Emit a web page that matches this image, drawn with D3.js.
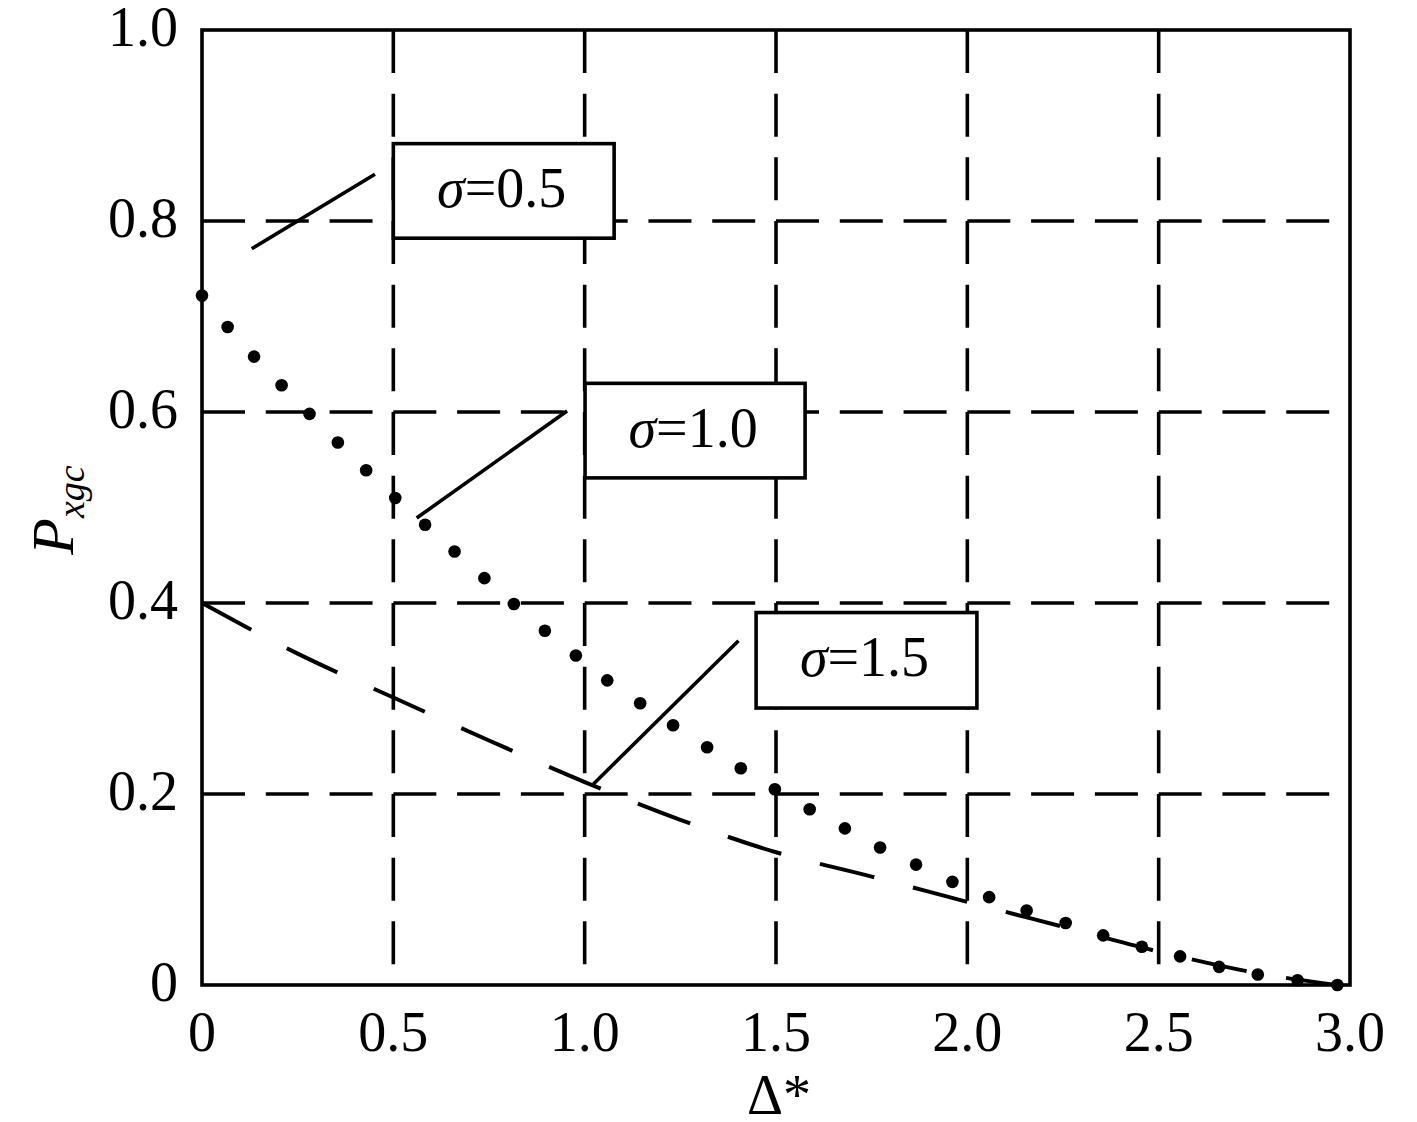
<!DOCTYPE html>
<html>
<head>
<meta charset="utf-8">
<script src="https://cdn.jsdelivr.net/npm/d3@7"></script>
<style>
	body { margin: 0; background: #fff; }
	text { font-family: "Liberation Serif", "Times New Roman", serif; fill: #000; }
</style>
</head>
<body>
<div id="chart"></div>
<script>
// tick values and labels
var xTicks = [0, 0.5, 1.0, 1.5, 2.0, 2.5, 3.0];
var xTickLabels = ["0", "0.5", "1.0", "1.5", "2.0", "2.5", "3.0"];
var yTicks = [0, 0.2, 0.4, 0.6, 0.8, 1.0];
var yTickLabels = ["0", "0.2", "0.4", "0.6", "0.8", "1.0"];

// sigma = 1.0, dotted curve (one value per dot)
var sigma10X = [0, 0.067, 0.136, 0.208, 0.281, 0.355, 0.429, 0.505, 0.583, 0.660, 0.738, 0.815,
	0.896, 0.977, 1.059, 1.145, 1.231, 1.320, 1.408, 1.497, 1.588, 1.680, 1.772, 1.866,
	1.961, 2.057, 2.155, 2.257, 2.355, 2.456, 2.556, 2.658, 2.759, 2.863, 2.967];
var sigma10Y = [0.722, 0.689, 0.658, 0.628, 0.598, 0.568, 0.539, 0.510, 0.482, 0.454, 0.426, 0.399,
	0.371, 0.345, 0.319, 0.295, 0.272, 0.249, 0.227, 0.205, 0.184, 0.164, 0.144, 0.126,
	0.108, 0.092, 0.078, 0.065, 0.052, 0.040, 0.030, 0.019, 0.011, 0.005, 0];

// sigma = 1.5, long dashed curve
var sigma15X = [0, 0.25, 0.5, 0.75, 1.0, 1.25, 1.5, 1.75, 2.0, 2.25, 2.5, 2.75, 2.965];
var sigma15Y = [0.400, 0.347, 0.301, 0.256, 0.2125, 0.173, 0.139, 0.1135, 0.087, 0.061, 0.035, 0.013, 0];

// annotation labels
var sigmaLabels = ["0.5", "1.0", "1.5"];

var width = 1417, height = 1122;
var margin = {top: 30, right: 67, bottom: 137, left: 202};
var w = width - margin.left - margin.right;
var h = height - margin.top - margin.bottom;

var x = d3.scaleLinear().domain([0, 3]).range([0, w]);
var y = d3.scaleLinear().domain([0, 1]).range([h, 0]);

var svg = d3.select("#chart").append("svg")
	.attr("width", width)
	.attr("height", height)
	.style("background", "#fff");

var g = svg.append("g")
	.attr("transform", "translate(" + margin.left + "," + margin.top + ")");

// dashed grid, three dashes per cell
var cellX = (x(0.5) - x(0)) / 3;
var cellY = (y(0) - y(0.2)) / 3;

g.selectAll("line.hgrid")
	.data(yTicks.slice(1, -1))
	.enter().append("line")
	.attr("class", "hgrid")
	.attr("x1", 0)
	.attr("x2", w)
	.attr("y1", function(d) { return y(d); })
	.attr("y2", function(d) { return y(d); })
	.attr("stroke", "#000")
	.attr("stroke-width", 3.6)
	.attr("stroke-dasharray", "43," + (cellX - 43));

g.selectAll("line.vgrid")
	.data(xTicks.slice(1, -1))
	.enter().append("line")
	.attr("class", "vgrid")
	.attr("x1", function(d) { return x(d); })
	.attr("x2", function(d) { return x(d); })
	.attr("y1", 0)
	.attr("y2", h)
	.attr("stroke", "#000")
	.attr("stroke-width", 3.6)
	.attr("stroke-dasharray", "43," + (cellY - 43));

// frame
g.append("rect")
	.attr("x", 0)
	.attr("y", 0)
	.attr("width", w)
	.attr("height", h)
	.attr("fill", "none")
	.attr("stroke", "#000")
	.attr("stroke-width", 3.6);

// tick labels
g.selectAll("text.xtick")
	.data(xTicks)
	.enter().append("text")
	.attr("class", "xtick")
	.attr("x", function(d) { return x(d); })
	.attr("y", h + 66)
	.attr("text-anchor", "middle")
	.attr("font-size", 56)
	.text(function(d, i) { return xTickLabels[i]; });

g.selectAll("text.ytick")
	.data(yTicks)
	.enter().append("text")
	.attr("class", "ytick")
	.attr("x", -24)
	.attr("y", function(d) { return y(d) + 16; })
	.attr("text-anchor", "end")
	.attr("font-size", 56)
	.text(function(d, i) { return yTickLabels[i]; });

// axis titles
svg.append("text")
	.attr("x", margin.left + x(1.5) + 3)
	.attr("y", 1114)
	.attr("text-anchor", "middle")
	.attr("font-size", 56)
	.text("\u0394*");

var ytitle = svg.append("text")
	.attr("transform", "translate(73,510) rotate(-90)")
	.attr("text-anchor", "middle");
ytitle.append("tspan")
	.attr("font-size", 60)
	.attr("font-style", "italic")
	.text("P");
ytitle.append("tspan")
	.attr("font-size", 38)
	.attr("font-style", "italic")
	.attr("dy", 11)
	.text("xgc");

// sigma = 1.5 curve
var sigma15 = sigma15X.map(function(d, i) { return {x: d, y: sigma15Y[i]}; });
var line = d3.line()
	.x(function(d) { return x(d.x); })
	.y(function(d) { return y(d.y); })
	.curve(d3.curveMonotoneX);

g.append("path")
	.datum(sigma15)
	.attr("d", line)
	.attr("fill", "none")
	.attr("stroke", "#000")
	.attr("stroke-width", 4)
	.attr("stroke-dasharray", "56,40");

// sigma = 1.0 dots
var sigma10 = sigma10X.map(function(d, i) { return {x: d, y: sigma10Y[i]}; });
g.selectAll("circle.dot")
	.data(sigma10)
	.enter().append("circle")
	.attr("class", "dot")
	.attr("cx", function(d) { return x(d.x); })
	.attr("cy", function(d) { return y(d.y); })
	.attr("r", 6.3)
	.attr("fill", "#000");

// label boxes with pointer lines (data coords)
var notes = [
	{from: [0.130, 0.771], to: [0.452, 0.849], box: [0.500, 0.881, 1.077, 0.782]},
	{from: [0.561, 0.489], to: [0.954, 0.601], box: [1.001, 0.630, 1.576, 0.531]},
	{from: [1.023, 0.2105], to: [1.402, 0.3605], box: [1.448, 0.390, 2.025, 0.290]}
];

notes.forEach(function(n, i) {
	g.append("line")
		.attr("x1", x(n.from[0]))
		.attr("y1", y(n.from[1]))
		.attr("x2", x(n.to[0]))
		.attr("y2", y(n.to[1]))
		.attr("stroke", "#000")
		.attr("stroke-width", 3.6);

	var bx = x(n.box[0]), by = y(n.box[1]);
	var bw = x(n.box[2]) - bx, bh = y(n.box[3]) - by;
	g.append("rect")
		.attr("x", bx)
		.attr("y", by)
		.attr("width", bw)
		.attr("height", bh)
		.attr("fill", "#fff")
		.attr("stroke", "#000")
		.attr("stroke-width", 3.6);

	var t = g.append("text")
		.attr("x", bx + bw / 2 - 2)
		.attr("y", by + bh / 2 + 16)
		.attr("text-anchor", "middle")
		.attr("font-size", 56);
	t.append("tspan")
		.attr("font-style", "italic")
		.text("\u03c3");
	t.append("tspan")
		.text("=" + sigmaLabels[i]);
});
</script>
</body>
</html>
